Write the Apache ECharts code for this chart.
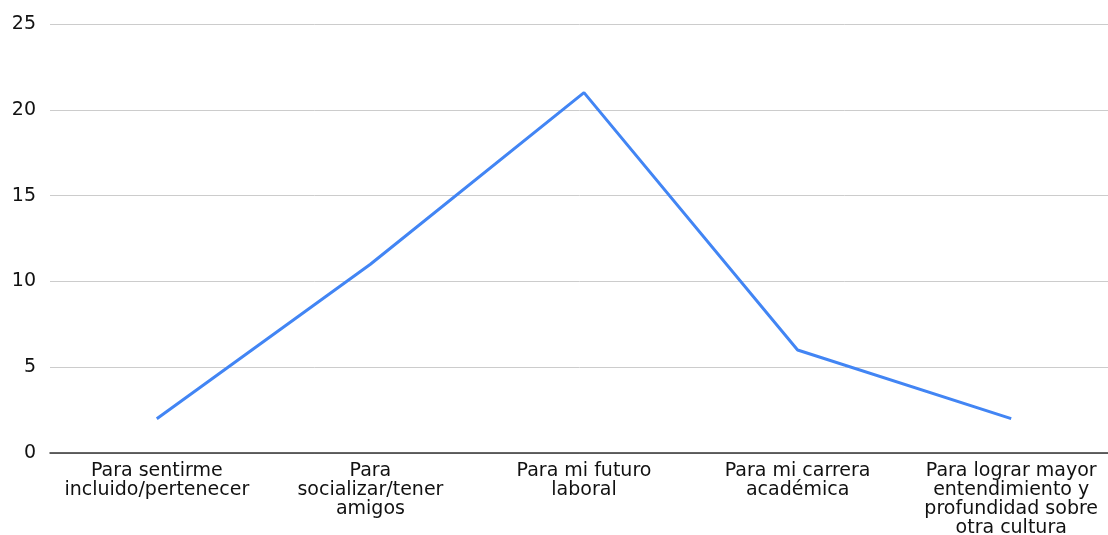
<!DOCTYPE html>
<html>
<head>
<meta charset="utf-8">
<script src="https://cdn.jsdelivr.net/npm/echarts@6/dist/echarts.min.js"></script>
<style>
  html, body { margin: 0; padding: 0; background: #fff; }
  #chart { width: 1108px; height: 535px; }
</style>
</head>
<body>
<div id="chart"></div>
<script>
const categories = [
    'Para sentirme\nincluido/pertenecer',
    'Para\nsocializar/tener\namigos',
    'Para mi futuro\nlaboral',
    'Para mi carrera\nacadémica',
    'Para lograr mayor\nentendimiento y\nprofundidad sobre\notra cultura'
];
const values = [2, 11, 21, 6, 2];

const chart = echarts.init(document.getElementById('chart'));

const option = {
    backgroundColor: '#fff',
    animation: false,
    // plot area runs a little past the right edge, like the original
    grid: { left: 50, width: 1068, top: 24, bottom: 82, outerBoundsMode: 'none' },
    xAxis: {
        type: 'category',
        data: categories,
        boundaryGap: true,
        axisTick: { show: false },
        axisLine: { lineStyle: { color: '#333', width: 1.5 } },
        axisLabel: {
            interval: 0,
            margin: 9,
            color: '#111',
            fontFamily: 'DejaVu Sans, sans-serif',
            fontSize: 19,
            lineHeight: 19,
            align: 'center'
        }
    },
    yAxis: {
        type: 'value',
        min: 0,
        max: 25,
        interval: 5,
        axisLine: { show: false },
        axisTick: { show: false },
        splitLine: { lineStyle: { color: '#ccc', width: 1 } },
        axisLabel: {
            margin: 14,
            color: '#111',
            fontFamily: 'DejaVu Sans, sans-serif',
            fontSize: 19
        }
    },
    series: [{
        type: 'line',
        data: values,
        symbol: 'none',
        lineStyle: { color: '#4285f4', width: 3 }
    }]
};

chart.setOption(option);
</script>
</body>
</html>
